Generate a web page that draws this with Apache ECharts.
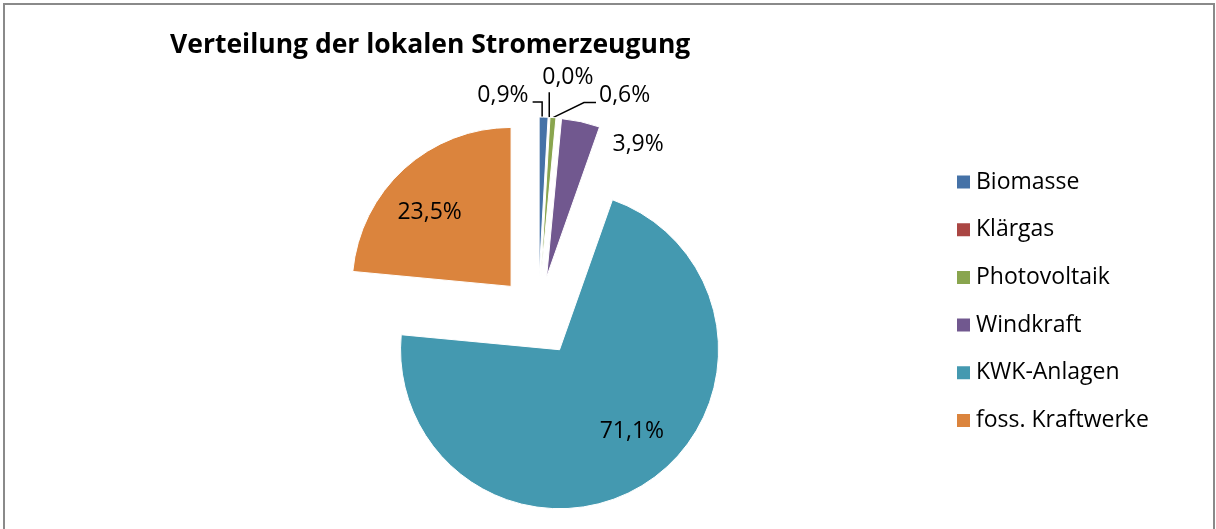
<!DOCTYPE html>
<html>
<head>
<meta charset="utf-8">
<script src="https://cdn.jsdelivr.net/npm/echarts@6/dist/echarts.min.js"></script>
<style>
  html, body { margin: 0; padding: 0; background: #fff; }
  #chart { width: 1216px; height: 529px; }
  #frame { position: absolute; left: 3px; top: 3px; width: 1208px; height: 600px;
           border: 2px solid #8a8a8a; pointer-events: none; }
</style>
</head>
<body>
<div id="chart"></div>
<div id="frame"></div>
<script>
// Anteile der lokalen Stromerzeugung in %
const categories = ['Biomasse', 'Klärgas', 'Photovoltaik', 'Windkraft', 'KWK-Anlagen', 'foss. Kraftwerke'];
const shares = [0.9, 0.0, 0.6, 3.9, 71.1, 23.5];
const colors = ['#4572A7', '#AA4643', '#89A54E', '#71588F', '#4499B0', '#DB843D'];

const font = '"Open Sans", sans-serif';
const explode = 40;   // px, Abstand der herausgezogenen Segmente
// kleine Korrektur der Innenbeschriftung (wie Excel sie setzt)
const insideNudge = { 4: [12, -13], 5: [-6, 9] };

// Mittelwinkel je Segment (im Uhrzeigersinn ab 12 Uhr)
const total = shares.reduce((a, b) => a + b, 0);
let cum = 0;
const midAngles = shares.map(s => {
    const a = (cum + s / 2) / total * 2 * Math.PI;
    cum += s;
    return a;
});

const fmt = p => p.value.toFixed(1).replace('.', ',') + '%';

const chart = echarts.init(document.getElementById('chart'));

const pieBase = {
    type: 'pie',
    center: [538, 316],
    radius: 159,
    startAngle: 90,
    emphasis: { disabled: true }
};

chart.setOption({
    animation: false,
    title: {
        text: 'Verteilung der lokalen Stromerzeugung',
        left: 165,
        top: 27,
        textStyle: { fontFamily: font, fontWeight: 'bold', fontSize: 26.5, color: '#000' }
    },
    legend: {
        orient: 'vertical',
        left: 955,
        top: 170,
        padding: 0,
        icon: 'rect',
        itemWidth: 15,
        itemHeight: 15,
        itemGap: 23.7,
        selectedMode: false,
        data: categories.map((n, i) => ({ name: n, itemStyle: { color: colors[i], opacity: 1 } })),
        textStyle: { fontFamily: font, fontSize: 23, color: '#000', lineHeight: 24 }
    },
    series: [
        // Segmente, alle herausgezogen
        Object.assign({}, pieBase, {
            selectedMode: 'multiple',
            selectedOffset: explode,
            itemStyle: { borderColor: '#fff', borderWidth: 1 },
            label: { show: false },
            labelLine: { show: false },
            data: categories.map((n, i) => ({
                name: n, value: shares[i], selected: true, itemStyle: { color: colors[i] }
            }))
        }),
        // unsichtbare Kopie nur für die Beschriftungen
        Object.assign({}, pieBase, {
            silent: true,
            itemStyle: { color: 'rgba(0,0,0,0)', borderWidth: 0 },
            avoidLabelOverlap: false,
            label: {
                show: true,
                position: 'outside',
                fontFamily: font,
                fontSize: 23,
                color: '#000',
                formatter: fmt
            },
            labelLine: { show: true, length: 10, length2: 10, lineStyle: { color: '#000', width: 1.5 } },
            labelLayout: function (p) {
                const i = p.dataIndex;
                const ox = explode * Math.sin(midAngles[i]);
                const oy = -explode * Math.cos(midAngles[i]);
                if (i >= 4) {
                    const lr = p.labelRect;
                    const n = insideNudge[i];
                    return { x: lr.x + lr.width / 2 + ox * 1.74 + n[0],
                             y: lr.y + lr.height / 2 + oy * 1.74 + n[1],
                             align: 'center', verticalAlign: 'middle' };
                }
                if (i === 3) {
                    const r = p.rect;
                    return { x: r.x + r.width + ox + 13, y: r.y + oy + 26,
                             align: 'left', verticalAlign: 'middle' };
                }
                const e = p.labelLinePoints[0];
                const ax = e[0] + ox, ay = e[1] + oy;
                if (i === 0) {
                    return { x: ax - 15, y: ay - 22, align: 'right', verticalAlign: 'middle',
                             labelLinePoints: [[ax - 1.5, ay], [ax - 1.5, ay - 15], [ax - 11, ay - 15]] };
                }
                if (i === 1) {
                    return { x: ax - 7, y: ay - 40, align: 'left', verticalAlign: 'middle',
                             labelLinePoints: [[ax, ay], [ax, ay - 25]] };
                }
                return { x: ax + 46, y: ay - 22, align: 'left', verticalAlign: 'middle',
                         labelLinePoints: [[ax, ay], [ax + 31, ay - 15], [ax + 43, ay - 15]] };
            },
            data: categories.map((n, i) => {
                const d = { name: n, value: shares[i] };
                if (i >= 4) {
                    d.label = { position: 'inside' };
                    d.labelLine = { show: false };
                }
                if (i === 3) d.labelLine = { show: false };
                return d;
            })
        })
    ]
});
</script>
</body>
</html>
